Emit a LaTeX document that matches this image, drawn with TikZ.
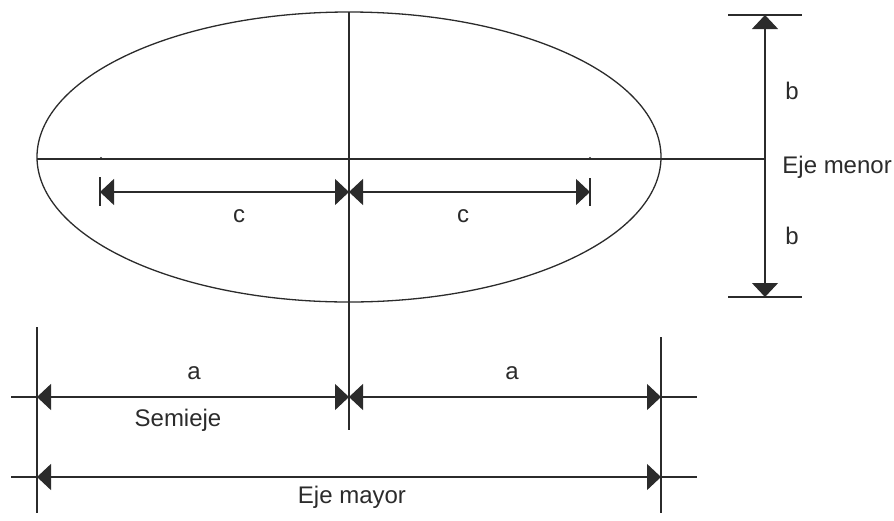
\documentclass[tikz,border=0pt]{standalone}
\usepackage{fontspec}
\setmainfont{Liberation Sans}
\usetikzlibrary{arrows.meta,shapes.geometric}
\definecolor{ink}{HTML}{2B2B2B}
\begin{document}
\begin{tikzpicture}[x=1pt,y=-1pt,
  ln/.style={draw=ink,line width=1.3pt},
  dim/.style={ln,{Triangle[length=14pt,width=26pt]}-{Triangle[length=14pt,width=26pt]}},
  lbl/.style={text=ink,font=\fontsize{24}{27}\selectfont,inner sep=0pt}]
\useasboundingbox (0,0) rectangle (894,520);
% ellipse
\node[ln,ellipse,minimum width=624pt,minimum height=290pt,inner sep=0pt] (E) at (349,157) {};
% axes
\coordinate (hl) at (37,159);   \coordinate (hr) at (765,159);
\coordinate (vt) at (349,12);   \coordinate (vb) at (349,430);
\draw[ln] (hl) -- (hr);
\draw[ln] (vt) -- (vb);
% foci
\fill[ink] (101,158) circle (1.2pt) coordinate (F1);
\fill[ink] (590,158) circle (1.2pt) coordinate (F2);
% minor axis dimension
\coordinate (bt1) at (728,15); \coordinate (bt2) at (802,15);
\coordinate (bb1) at (728,297); \coordinate (bb2) at (802,297);
\coordinate (bT) at (765,15); \coordinate (bB) at (765,297);
\draw[ln] (bt1) -- (bt2);
\draw[ln] (bb1) -- (bb2);
\draw[dim] (bT) -- (bB);
\node[lbl] (b1) at (792,91) {b};
\node[lbl] (b2) at (792,236) {b};
\node[lbl,anchor=east] (em) at (892,167) {Eje menor};
% c dimensions
\coordinate (c1t) at (100,177); \coordinate (c1b) at (100,206);
\coordinate (c2t) at (590,178); \coordinate (c2b) at (590,206);
\draw[ln] (c1t) -- (c1b);
\draw[ln] (c2t) -- (c2b);
\coordinate (cL) at (100,192); \coordinate (cM) at (349,192); \coordinate (cR) at (590,192);
\draw[dim] (cL) -- (cM);
\draw[dim] (cM) -- (cR);
\node[lbl] (cl) at (239,216) {c};
\node[lbl] (cr) at (463,216) {c};
% a dimensions
\coordinate (aLt) at (37,327); \coordinate (aLb) at (37,513);
\coordinate (aRt) at (661,337); \coordinate (aRb) at (661,513);
\draw[ln] (aLt) -- (aLb);
\draw[ln] (aRt) -- (aRb);
\coordinate (e1) at (11,397); \coordinate (e2) at (697,397);
\coordinate (e3) at (11,477); \coordinate (e4) at (697,477);
\coordinate (aL) at (37,397); \coordinate (aM) at (349,397); \coordinate (aR) at (661,397);
\coordinate (mL) at (37,477); \coordinate (mR) at (661,477);
\draw[ln] (e1) -- (aL);
\draw[ln] (aR) -- (e2);
\draw[ln] (e3) -- (mL);
\draw[ln] (mR) -- (e4);
\draw[dim] (aL) -- (aM);
\draw[dim] (aM) -- (aR);
\draw[dim] (mL) -- (mR);
\node[lbl] (al) at (194,373) {a};
\node[lbl] (ar) at (512,373) {a};
\node[lbl] (se) at (178,420) {Semieje};
\node[lbl] (ma) at (352,497) {Eje mayor};
\end{tikzpicture}
\end{document}
